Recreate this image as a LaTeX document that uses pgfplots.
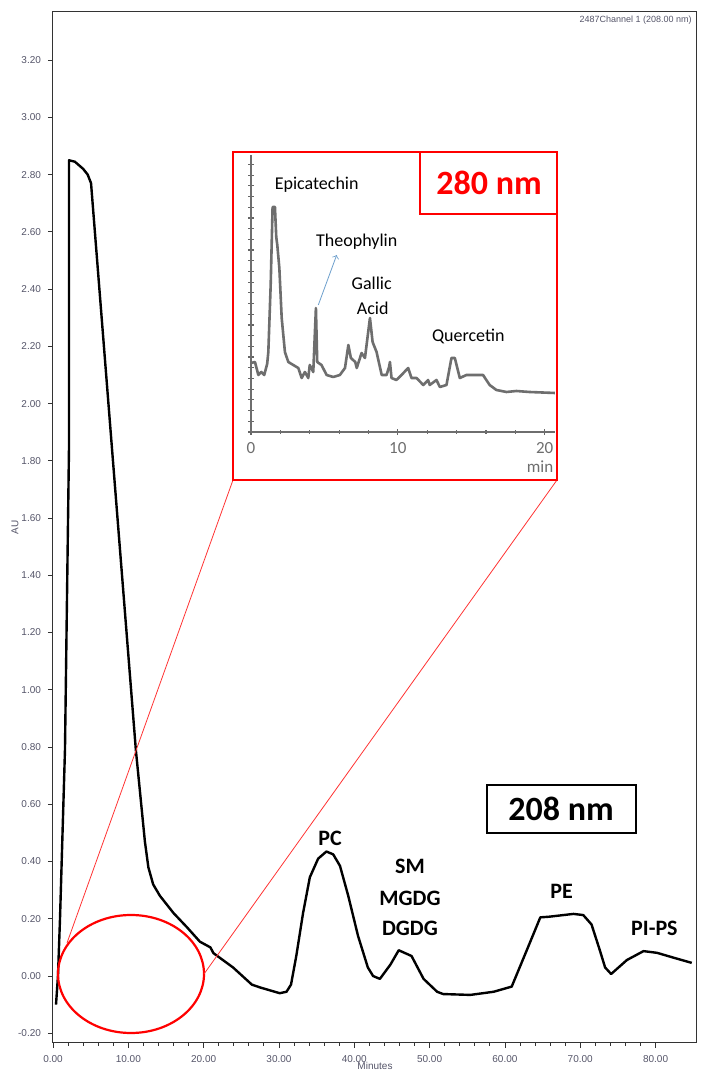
\documentclass[border=0pt]{standalone}
\usepackage{pgfplots}
\pgfplotsset{compat=1.18}
\usepackage{fontspec}
\setmainfont{Carlito}
\newfontfamily\arialfont{Liberation Sans}
\definecolor{tickgray}{RGB}{85,85,105}
\definecolor{insetgray}{RGB}{110,110,110}
\definecolor{arrowblue}{RGB}{110,160,205}

\begin{document}
\begin{tikzpicture}
% 1 px of the reference = 0.5pt
\useasboundingbox (-26.5pt,-17.5pt) rectangle (330.5pt,521.5pt);

% main chromatogram, 208 nm
\begin{axis}[
    at={(0pt,0pt)}, anchor=south west,
    scale only axis,
    width=322pt, height=515.5pt,
    xmin=0, xmax=85.5,
    ymin=-0.234, ymax=3.368,
    xtick={0,10,...,80}, minor x tick num=4,
    ytick={-0.2,0,0.2,...,3.21}, minor y tick num=3,
    tick pos=left, tick align=outside,
    major tick length=2.5pt, minor tick length=1.5pt,
    axis line style={black!80, line width=0.5pt},
    every tick/.style={black!80, line width=0.4pt},
    ticklabel style={font=\arialfont\fontsize{5}{6}\selectfont, text=tickgray},
    /pgf/number format/.cd, fixed, fixed zerofill, precision=2, assume math mode=true,
    /pgfplots/.cd,
    clip=false,
]
\addplot[black, line width=1.2pt, line join=round] coordinates {
    (0.40,-0.10) (0.66,0.00) (0.93,0.20) (1.59,0.79) (2.12,1.84) (2.12,2.85)
    (2.9,2.845) (4.0,2.82) (4.6,2.80) (5.05,2.77)
    (7.84,1.84) (11.0,0.79) (12.2,0.47) (12.66,0.38)
    (13.3,0.32) (14.2,0.28) (16.0,0.22) (17.8,0.17) (19.5,0.12) (20.9,0.10)
    (21.3,0.08) (23.9,0.03) (26.4,-0.03) (27.5,-0.04) (30.1,-0.06) (31.0,-0.055)
    (31.6,-0.03) (32.3,0.07) (33.2,0.22) (34.1,0.345) (35.2,0.41) (36.3,0.435)
    (37.2,0.425) (38.1,0.385) (39.2,0.28) (40.5,0.14) (41.8,0.03) (42.5,0.00)
    (43.4,-0.01) (44.8,0.04) (45.9,0.09) (47.6,0.07) (49.2,-0.01) (51.0,-0.055)
    (51.8,-0.063) (55.4,-0.066) (58.5,-0.055) (60.9,-0.037) (62.9,0.09)
    (64.7,0.205) (65.8,0.207) (69.1,0.217) (70.4,0.213) (71.5,0.18) (72.6,0.09)
    (73.3,0.03) (74.1,0.007) (76.2,0.056) (78.4,0.087) (80.2,0.081) (82.4,0.064)
    (84.8,0.046)
};
\end{axis}

% axis titles and channel caption
\node[rotate=90, font=\arialfont\fontsize{5}{6}\selectfont, text=tickgray] at (-19pt,257.75pt) {AU};
\node[font=\arialfont\fontsize{5}{6}\selectfont, text=tickgray] at (161pt,-11.5pt) {Minutes};
\node[anchor=east, font=\arialfont\fontsize{4.5}{5}\selectfont, text=tickgray, inner sep=0pt]
    at (319.5pt,511.2pt) {2487Channel 1 (208.00 nm)};

% zoom marker and connecting lines
\draw[red, line width=1.1pt] (39pt,34.5pt) ellipse [x radius=36.5pt, y radius=29.5pt];
\draw[red!80, line width=0.4pt] (7pt,50pt) -- (90pt,281.5pt);
\draw[red!80, line width=0.4pt] (75.5pt,34.5pt) -- (252pt,281.5pt);

% inset frame
\draw[red, line width=1.1pt, fill=white] (90pt,281.5pt) rectangle (252pt,445.5pt);

% inset chromatogram, 280 nm
\begin{axis}[
    at={(99pt,305.5pt)}, anchor=south west,
    scale only axis,
    width=152pt, height=138.5pt,
    xmin=0, xmax=20.7, ymin=0, ymax=27.7,
    axis x line=bottom, axis y line=left,
    axis line style={-, insetgray, line width=1.2pt},
    xtick={0,10,20}, minor x tick num=4,
    ytick={0,1.07,...,27.5}, yticklabels={},
    tick align=center,
    major tick length=3pt, minor tick length=2pt,
    every tick/.style={black!60, line width=0.6pt},
    xticklabel style={font=\fontsize{8.5}{9}\selectfont, text=insetgray, yshift=0pt},
    /pgf/number format/assume math mode=true,
]
\addplot[insetgray, line width=1.3pt, line join=round] coordinates {
    (0,6.9) (0.27,7.0) (0.5,5.7) (0.7,6.0) (0.9,5.7) (1.1,6.8) (1.18,8.0)
    (1.34,14.7) (1.47,22.5) (1.63,22.5) (1.72,19.5) (1.79,18.7) (1.93,16.4)
    (2.09,11.4) (2.31,8.0) (2.54,7.0) (2.88,6.7) (3.22,6.4) (3.45,5.4) (3.67,6.0)
    (3.9,5.4) (4.0,6.7) (4.24,6.0) (4.42,12.4) (4.51,7.0) (4.8,6.7) (5.15,5.7)
    (5.6,5.5) (6.05,5.7) (6.4,6.4) (6.63,8.7) (6.8,7.4) (7.1,7.0) (7.2,6.4)
    (7.53,7.9) (7.76,7.4) (8.1,11.4) (8.28,9.0) (8.55,8.0) (8.9,5.7) (9.23,5.7)
    (9.4,6.5) (9.46,7.0) (9.57,5.4) (9.9,5.2) (10.25,5.7) (10.7,6.4) (10.93,5.4)
    (11.27,5.4) (11.73,4.7) (12.06,5.2) (12.17,4.7) (12.63,5.2) (12.86,4.5)
    (13.31,4.7) (13.65,7.4) (13.88,7.4) (14.22,5.4) (14.67,5.7) (15.35,5.7)
    (15.8,5.7) (16.25,4.7) (16.71,4.2) (17.39,4.0) (18.07,4.1) (18.97,4.0)
    (20.7,3.9)
};
\end{axis}

\node[font=\fontsize{8.5}{9}\selectfont, text=insetgray] at (243.5pt,288pt) {min};

% 280 nm tag
\draw[red, line width=1.1pt] (183.5pt,414.5pt) rectangle (252pt,445.5pt);
\node[font=\bfseries\fontsize{17}{18}\selectfont, text=red] at (218pt,430pt) {280 nm};

% inset peak names
\node[font=\fontsize{9}{10}\selectfont] at (131.85pt,429.35pt) {Epicatechin};
\node[font=\fontsize{9}{10}\selectfont] at (151.85pt,400.65pt) {Theophylin};
\node[font=\fontsize{9}{10}\selectfont] at (159.35pt,379.85pt) {Gallic};
\node[font=\fontsize{9}{10}\selectfont] at (159.85pt,367.35pt) {Acid};
\node[font=\fontsize{9}{10}\selectfont] at (207.65pt,353.15pt) {Quercetin};
\draw[arrowblue, line width=0.4pt, ->] (132.65pt,369pt) -- (141.85pt,394pt);

% 208 nm tag
\draw[black, line width=1.1pt] (217pt,105pt) rectangle (291.5pt,129pt);
\node[font=\bfseries\fontsize{17}{18}\selectfont] at (254pt,117pt) {208 nm};

% lipid class labels
\node[font=\bfseries\fontsize{11}{12}\selectfont] at (138.5pt,102.3pt) {PC};
\node[font=\bfseries\fontsize{11}{12}\selectfont] at (178.5pt,88.2pt) {SM};
\node[font=\bfseries\fontsize{11}{12}\selectfont] at (178.5pt,72.3pt) {MGDG};
\node[font=\bfseries\fontsize{11}{12}\selectfont] at (178.5pt,57.3pt) {DGDG};
\node[font=\bfseries\fontsize{11}{12}\selectfont] at (254.3pt,75.7pt) {PE};
\node[font=\bfseries\fontsize{11}{12}\selectfont] at (300.7pt,57.3pt) {PI-PS};

\end{tikzpicture}
\end{document}
